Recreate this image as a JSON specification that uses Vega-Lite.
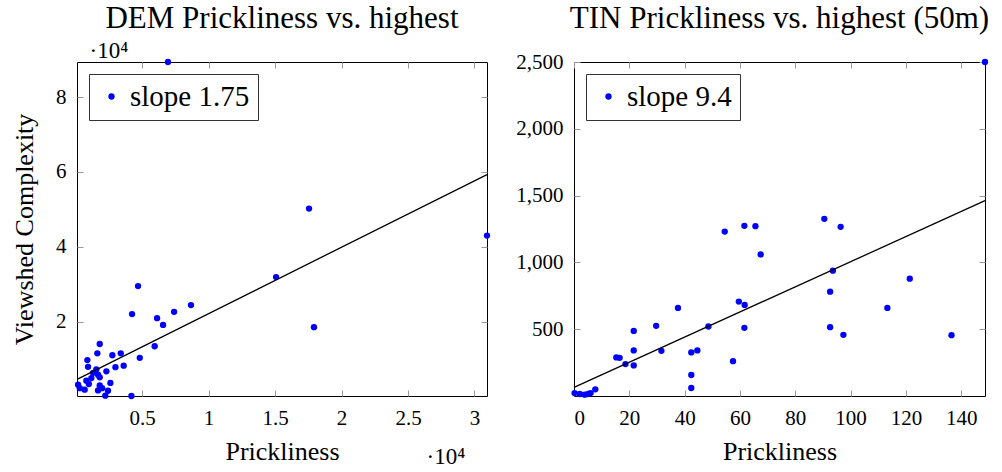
{
  "$schema": "https://vega.github.io/schema/vega-lite/v6.json",
  "padding": {"left": 11, "top": 2, "right": 2, "bottom": 2},
  "spacing": 24,
  "config": {
    "font": "Liberation Serif",
    "view": {"stroke": "black", "strokeWidth": 1},
    "axis": {
      "grid": false, "domain": false, "tickColor": "#999999", "tickSize": -6, "tickWidth": 1,
      "labelFont": "Liberation Serif", "labelFontSize": 21, "labelColor": "black", "labelPadding": 17,
      "titleFont": "Liberation Serif", "titleFontSize": 26, "titleFontWeight": "normal", "titleColor": "black"
    },
    "title": {"font": "Liberation Serif", "fontSize": 31, "fontWeight": "normal", "frame": "group", "color": "black"},
    "legend": {
      "orient": "top-left", "offset": 12, "strokeColor": "#333333", "fillColor": "white", "padding": 8,
      "cornerRadius": 0, "labelFont": "Liberation Serif", "labelFontSize": 29, "labelColor": "black",
      "symbolSize": 40, "symbolType": "circle", "labelOffset": 4, "title": null
    }
  },
  "datasets": {
    "dem": [
      {"p": 6950, "c": 89400}, {"p": 17560, "c": 50200}, {"p": 30940, "c": 43000}, {"p": 15080, "c": 31900},
      {"p": 17930, "c": 18500}, {"p": 8680, "c": 24400}, {"p": 7410, "c": 22600}, {"p": 6130, "c": 20900},
      {"p": 6580, "c": 19100}, {"p": 4250, "c": 22000}, {"p": 4700, "c": 29500}, {"p": 5950, "c": 13400},
      {"p": 1820, "c": 14000}, {"p": 1640, "c": 11500}, {"p": 2770, "c": 11000}, {"p": 3400, "c": 11500},
      {"p": 4830, "c": 10300}, {"p": 890, "c": 9700}, {"p": 940, "c": 7900}, {"p": 3000, "c": 7800},
      {"p": 3620, "c": 8200}, {"p": 2320, "c": 6700}, {"p": 1560, "c": 7200}, {"p": 1320, "c": 6300},
      {"p": 1690, "c": 5800}, {"p": 1190, "c": 4900}, {"p": 1820, "c": 5100}, {"p": 810, "c": 4200},
      {"p": 1000, "c": 3300}, {"p": 2620, "c": 3600}, {"p": 1820, "c": 2900}, {"p": 190, "c": 3100},
      {"p": 320, "c": 2200}, {"p": 690, "c": 1800}, {"p": 2440, "c": 1500}, {"p": 2000, "c": 2200},
      {"p": 1690, "c": 1600}, {"p": 2240, "c": 200}, {"p": 4200, "c": 100}
    ],
    "demFit": [{"p": 110, "c": 4560}, {"p": 30940, "c": 59300}],
    "tin": [
      {"p": 0.2, "c": 22}, {"p": 2.1, "c": 15}, {"p": 3.9, "c": 10}, {"p": 5.1, "c": 15}, {"p": 6.0, "c": 22},
      {"p": 7.7, "c": 50}, {"p": 15.3, "c": 289}, {"p": 16.5, "c": 286}, {"p": 18.6, "c": 239}, {"p": 21.6, "c": 487},
      {"p": 21.6, "c": 341}, {"p": 21.6, "c": 229}, {"p": 29.7, "c": 525}, {"p": 31.6, "c": 338}, {"p": 37.6, "c": 659},
      {"p": 42.4, "c": 326}, {"p": 42.4, "c": 157}, {"p": 42.4, "c": 60}, {"p": 44.6, "c": 341}, {"p": 48.6, "c": 520},
      {"p": 54.5, "c": 1231}, {"p": 57.5, "c": 261}, {"p": 59.6, "c": 707}, {"p": 61.7, "c": 682}, {"p": 61.6, "c": 510},
      {"p": 61.6, "c": 1274}, {"p": 65.6, "c": 1271}, {"p": 67.5, "c": 1060}, {"p": 90.5, "c": 1326}, {"p": 96.4, "c": 1266},
      {"p": 93.6, "c": 938}, {"p": 92.6, "c": 781}, {"p": 92.6, "c": 515}, {"p": 97.4, "c": 458}, {"p": 113.3, "c": 659},
      {"p": 121.4, "c": 878}, {"p": 136.5, "c": 455}, {"p": 148.6, "c": 2500}
    ],
    "tinFit": [{"p": 0, "c": 65}, {"p": 148.6, "c": 1462}]
  },
  "resolve": {"scale": {"color": "independent"}, "legend": {"color": "independent"}},
  "hconcat": [
    {
      "width": 410, "height": 334,
      "title": {"text": "DEM Prickliness vs. highest", "offset": 4},
      "resolve": {"axis": {"x": "independent", "y": "independent"}},
      "layer": [
        {
          "data": {"name": "dem"},
          "transform": [{"calculate": "'slope 1.75'", "as": "series"}],
          "mark": {"type": "circle", "size": 40, "opacity": 1, "clip": false},
          "encoding": {
            "x": {"field": "p", "type": "quantitative",
              "scale": {"domain": [110, 30940], "nice": false, "zero": false},
              "axis": {"orient": "bottom", "values": [5000, 10000, 15000, 20000, 25000, 30000],
                "labelExpr": "format(datum.value / 10000, '~g')", "title": "Prickliness", "titlePadding": 10}},
            "y": {"field": "c", "type": "quantitative",
              "scale": {"domain": [100, 89400], "nice": false, "zero": false},
              "axis": {"orient": "left", "values": [20000, 40000, 60000, 80000],
                "labelExpr": "format(datum.value / 10000, '~g')", "title": "Viewshed Complexity", "titlePadding": 18}},
            "color": {"field": "series", "type": "nominal", "scale": {"range": ["#0000ff"]}}
          }
        },
        {
          "data": {"name": "demFit"},
          "mark": {"type": "line", "color": "black", "strokeWidth": 1.3},
          "encoding": {
            "x": {"field": "p", "type": "quantitative",
              "scale": {"domain": [110, 30940], "nice": false, "zero": false},
              "axis": {"orient": "top", "values": [5000, 10000, 15000, 20000, 25000, 30000], "labels": false,
                "title": "·10⁴", "titleAngle": 0, "titleAlign": "left", "titleBaseline": "alphabetic",
                "titleX": 12, "titleY": -5, "titleFontSize": 23}},
            "y": {"field": "c", "type": "quantitative",
              "scale": {"domain": [100, 89400], "nice": false, "zero": false},
              "axis": {"orient": "right", "values": [20000, 40000, 60000, 80000], "labels": false,
                "title": "·10⁴", "titleAngle": 0, "titleAlign": "left", "titleBaseline": "alphabetic",
                "titleX": -61, "titleY": 401, "titleFontSize": 23}}
          }
        }
      ]
    },
    {
      "width": 411, "height": 334,
      "title": {"text": "TIN Prickliness vs. highest (50m)", "offset": 16},
      "resolve": {"axis": {"x": "independent", "y": "independent"}},
      "layer": [
        {
          "data": {"name": "tin"},
          "transform": [{"calculate": "'slope 9.4'", "as": "series"}],
          "mark": {"type": "circle", "size": 40, "opacity": 1, "clip": false},
          "encoding": {
            "x": {"field": "p", "type": "quantitative",
              "scale": {"domain": [0, 148.6], "nice": false, "zero": false},
              "axis": {"orient": "bottom", "values": [0, 20, 40, 60, 80, 100, 120, 140],
                "title": "Prickliness", "titlePadding": 10}},
            "y": {"field": "c", "type": "quantitative",
              "scale": {"domain": [0, 2500], "nice": false, "zero": false},
              "axis": {"orient": "left", "values": [500, 1000, 1500, 2000, 2500], "labelExpr": "format(datum.value, ',.0f')", "title": null}},
            "color": {"field": "series", "type": "nominal", "scale": {"range": ["#0000ff"]}}
          }
        },
        {
          "data": {"name": "tinFit"},
          "mark": {"type": "line", "color": "black", "strokeWidth": 1.3},
          "encoding": {
            "x": {"field": "p", "type": "quantitative",
              "scale": {"domain": [0, 148.6], "nice": false, "zero": false},
              "axis": {"orient": "top", "values": [0, 20, 40, 60, 80, 100, 120, 140], "labels": false, "title": null}},
            "y": {"field": "c", "type": "quantitative",
              "scale": {"domain": [0, 2500], "nice": false, "zero": false},
              "axis": {"orient": "right", "values": [500, 1000, 1500, 2000, 2500], "labels": false, "title": null}}
          }
        }
      ]
    }
  ]
}
